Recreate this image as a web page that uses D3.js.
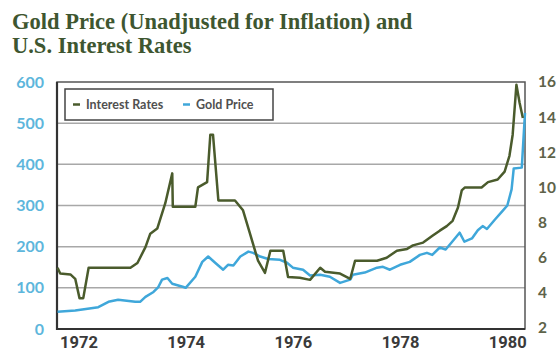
<!DOCTYPE html>
<html><head><meta charset="utf-8">
<script src="https://cdn.jsdelivr.net/npm/d3@7"></script>
<style>body{margin:0;background:#fff}svg{display:block}</style>
</head><body>
<svg id="c" width="557" height="355"></svg>
<script>
const titleLines = ["Gold Price (Unadjusted for Inflation) and", "U.S. Interest Rates"];
const legendLabels = ["Interest Rates", "Gold Price"];
const xTickYears = [1972, 1974, 1976, 1978, 1980];
const leftTicks = [0, 100, 200, 300, 400, 500, 600];
const rightTicks = [2, 4, 6, 8, 10, 12, 14, 16];

const goldDates = [1971.61,1971.94,1972.37,1972.56,1972.74,1973.06,1973.15,1973.25,1973.40,1973.49,1973.56,1973.66,1973.75,1973.96,1974.0,1974.18,1974.31,1974.42,1974.55,1974.70,1974.79,1974.89,1975.02,1975.17,1975.26,1975.39,1975.54,1975.76,1975.89,1976.0,1976.19,1976.32,1976.51,1976.69,1976.88,1977.07,1977.12,1977.34,1977.57,1977.68,1977.81,1978.0,1978.18,1978.37,1978.50,1978.60,1978.74,1978.85,1978.96,1979.11,1979.20,1979.34,1979.45,1979.54,1979.62,1979.77,1979.90,1980.0,1980.08,1980.12,1980.27,1980.33];
const goldPrice = [42,45,53,66,71,66,66,78,90,102,120,124,110,102,100,127,163,176,161,144,156,154,176,188,185,176,170,168,161,149,144,130,132,127,112,120,132,137,149,151,144,156,163,180,185,180,198,193,210,234,212,220,240,250,243,266,285,300,339,390,392,525];

const rateDates = [1971.61,1971.66,1971.85,1971.94,1972.02,1972.09,1972.19,1972.97,1973.10,1973.25,1973.34,1973.47,1973.62,1973.75,1973.76,1974.18,1974.23,1974.40,1974.46,1974.51,1974.61,1974.92,1975.07,1975.20,1975.35,1975.48,1975.58,1975.82,1975.91,1976.13,1976.32,1976.51,1976.60,1976.88,1977.07,1977.16,1977.57,1977.75,1977.94,1978.13,1978.24,1978.43,1978.61,1978.74,1978.87,1978.98,1979.08,1979.15,1979.21,1979.52,1979.64,1979.82,1979.95,1980.04,1980.10,1980.17,1980.23,1980.29];
const interestRate = [5.43,5.1,5.05,4.8,3.7,3.7,5.43,5.43,5.7,6.6,7.37,7.66,9.1,10.8,8.9,8.9,10.0,10.3,13.0,13.0,9.26,9.26,8.7,7.37,5.83,5.14,6.4,6.4,4.9,4.86,4.74,5.43,5.2,5.1,4.8,5.83,5.83,6.0,6.4,6.5,6.7,6.86,7.26,7.54,7.8,8.1,8.86,9.83,10.0,10.0,10.3,10.45,10.9,11.8,13.0,15.85,14.8,13.95];

const svg = d3.select("#c");
const L = 57, R = 525, T = 82, B = 329;
const x = d3.scaleLinear().domain([1971.6, 1980.33]).range([L, R]);
const yL = d3.scaleLinear().domain([0, 600]).range([B, T]);
const yR = d3.scaleLinear().domain([2, 16]).range([B - 1, T]);

const green = "#4a5b2c", blue = "#3fa7da";

// title
svg.append("g").selectAll("text").data(titleLines).join("text")
  .attr("x", 12).attr("y", (d, i) => 29 + i * 24)
  .attr("font-family", "Liberation Serif, serif").attr("font-weight", "bold")
  .attr("font-size", 22.5).attr("fill", "#3e5630").text(d => d);

// gridlines
svg.append("g").selectAll("line").data(leftTicks.filter(v => v > 0 && v < 600)).join("line")
  .attr("x1", L).attr("x2", R).attr("y1", d => yL(d)).attr("y2", d => yL(d))
  .attr("stroke", "#a8a8a8").attr("stroke-width", 1.5);

// left axis
const gl = svg.append("g").attr("transform", `translate(${L},0)`)
  .call(d3.axisLeft(yL).tickValues(leftTicks).tickSize(0).tickPadding(13));
gl.select(".domain").remove();
gl.selectAll("text").attr("font-family", "Lato, sans-serif").attr("font-weight", "bold")
  .attr("font-size", 16).attr("fill", "#5db6dc");

// right axis
const gr = svg.append("g").attr("transform", `translate(${R},0)`)
  .call(d3.axisRight(yR).tickValues(rightTicks).tickSize(0).tickPadding(13));
gr.select(".domain").remove();
gr.selectAll("text").attr("font-family", "Lato, sans-serif").attr("font-weight", "bold")
  .attr("font-size", 15.5).attr("fill", "#5e6349");

// bottom axis
const gb = svg.append("g").attr("transform", `translate(0,${B})`)
  .call(d3.axisBottom(x).tickValues(xTickYears).tickFormat(d3.format("d")).tickSize(0).tickPadding(7));
gb.select(".domain").remove();
gb.selectAll("text").attr("font-family", "Roboto, sans-serif").attr("font-weight", "bold")
  .attr("font-size", 16.5).attr("fill", "#3a3a3a");

// frame
svg.append("rect").attr("x", L).attr("y", T).attr("width", R - L).attr("height", B - T)
  .attr("fill", "none").attr("stroke", "#555").attr("stroke-width", 1.5);
svg.append("path").attr("d", `M${L},${T}V${B}H${R}`).attr("fill", "none")
  .attr("stroke", "#333").attr("stroke-width", 2.2);

// lines
const rateLine = d3.line().x((d, i) => x(rateDates[i])).y(d => yR(d));
const goldLine = d3.line().x((d, i) => x(goldDates[i])).y(d => yL(d));
svg.append("path").datum(goldPrice).attr("d", goldLine).attr("fill", "none")
  .attr("stroke", blue).attr("stroke-width", 2.5).attr("stroke-linejoin", "round");
svg.append("path").datum(interestRate).attr("d", rateLine).attr("fill", "none")
  .attr("stroke", green).attr("stroke-width", 2.5).attr("stroke-linejoin", "round");

// legend
const lg = svg.append("g");
lg.append("rect").attr("x", 65).attr("y", 89).attr("width", 208).attr("height", 31)
  .attr("fill", "#fff").attr("stroke", "#444").attr("stroke-width", 1.5);
const legendColors = [green, blue];
const legendX = [73, 183];
legendLabels.forEach((lab, i) => {
  lg.append("line").attr("x1", legendX[i]).attr("x2", legendX[i] + 7)
    .attr("y1", 104.5).attr("y2", 104.5).attr("stroke", legendColors[i]).attr("stroke-width", 2.5);
  lg.append("text").attr("x", legendX[i] + 13).attr("y", 109)
    .attr("font-family", "Lato, sans-serif").attr("font-weight", "bold").attr("font-size", 12.5)
    .attr("fill", "#505050").text(lab);
});
</script>
</body></html>
